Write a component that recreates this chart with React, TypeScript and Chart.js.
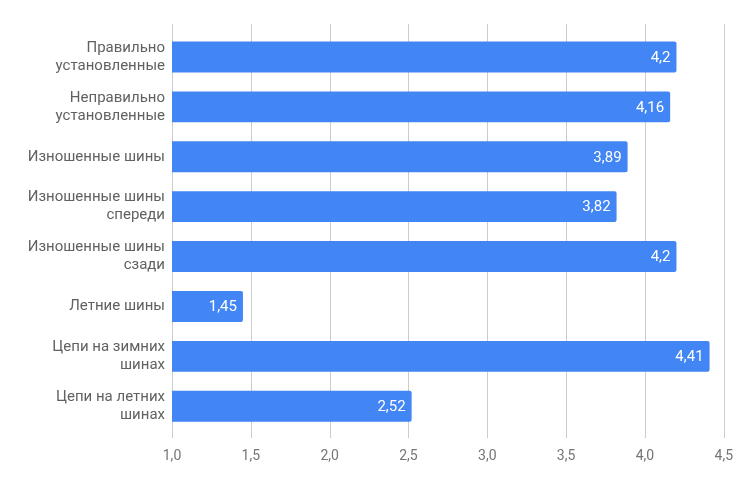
import React, { useEffect, useRef } from "react";
import { Chart, registerables } from "chart.js";

Chart.register(...registerables);

const categories: string[][] = [
  ["Правильно", "установленные"],
  ["Неправильно", "установленные"],
  ["Изношенные шины"],
  ["Изношенные шины", "спереди"],
  ["Изношенные шины", "сзади"],
  ["Летние шины"],
  ["Цепи на зимних", "шинах"],
  ["Цепи на летних", "шинах"],
];

const values: number[] = [4.2, 4.16, 3.89, 3.82, 4.2, 1.45, 4.41, 2.52];

const axisMin = 1.0;
const axisMax = 4.5;
const axisStep = 0.5;

const fmt = (v: number, digits?: number) =>
  (digits === undefined ? String(v) : v.toFixed(digits)).replace(".", ",");

const gridPlugin = {
  id: "extendedGrid",
  beforeDatasetsDraw(chart: any) {
    const { ctx, chartArea, scales } = chart;
    const x = scales.x;
    ctx.save();
    ctx.strokeStyle = "#cccccc";
    ctx.lineWidth = 1;
    x.ticks.forEach((t: any) => {
      const px = Math.round(x.getPixelForValue(t.value)) + 0.5;
      ctx.beginPath();
      ctx.moveTo(px, chartArea.top - 8);
      ctx.lineTo(px, chartArea.bottom + 7);
      ctx.stroke();
    });
    ctx.restore();
  },
};

const valueLabelPlugin = {
  id: "valueLabels",
  afterDatasetsDraw(chart: any) {
    const { ctx } = chart;
    const meta = chart.getDatasetMeta(0);
    ctx.save();
    ctx.fillStyle = "#ffffff";
    ctx.font = "15px Roboto";
    ctx.textAlign = "right";
    ctx.textBaseline = "middle";
    meta.data.forEach((el: any, i: number) => {
      ctx.fillText(fmt(values[i]), el.x - 6, el.y + 1);
    });
    ctx.restore();
  },
};

export default function App() {
  const ref = useRef<HTMLCanvasElement | null>(null);

  useEffect(() => {
    if (!ref.current) return;
    const chart = new Chart(ref.current, {
      type: "bar",
      data: {
        labels: categories,
        datasets: [
          {
            data: values,
            base: axisMin,
            backgroundColor: "#4285f4",
            borderRadius: 2,
            borderSkipped: "start",
            barPercentage: 0.62,
            categoryPercentage: 1,
          } as any,
        ],
      },
      options: {
        indexAxis: "y",
        animation: false,
        responsive: false,
        maintainAspectRatio: false,
        layout: { padding: { top: 32, right: 25, bottom: 7, left: 0 } },
        plugins: {
          legend: { display: false },
          tooltip: { enabled: false },
        },
        scales: {
          x: {
            min: axisMin,
            max: axisMax,
            grid: { display: false, drawTicks: false },
            border: { display: false },
            ticks: {
              stepSize: axisStep,
              padding: 17,
              color: "#757575",
              font: { family: "Roboto", size: 14 },
              callback: (v: any) => fmt(Number(v), 1),
            },
          },
          y: {
            grid: { display: false, drawTicks: false },
            border: { display: false },
            ticks: {
              padding: 7,
              color: "#616161",
              font: { family: "Roboto", size: 15, lineHeight: 1.2 },
            },
            afterFit: (s: any) => {
              s.width = 172;
            },
          },
        },
      },
      plugins: [gridPlugin, valueLabelPlugin],
    });
    return () => chart.destroy();
  }, []);

  return (
    <div style={{ position: "fixed", left: 0, top: 0, width: 750, height: 489, background: "#fff" }}>
      <canvas ref={ref} width={750} height={489} style={{ width: 750, height: 489 }} />
    </div>
  );
}
